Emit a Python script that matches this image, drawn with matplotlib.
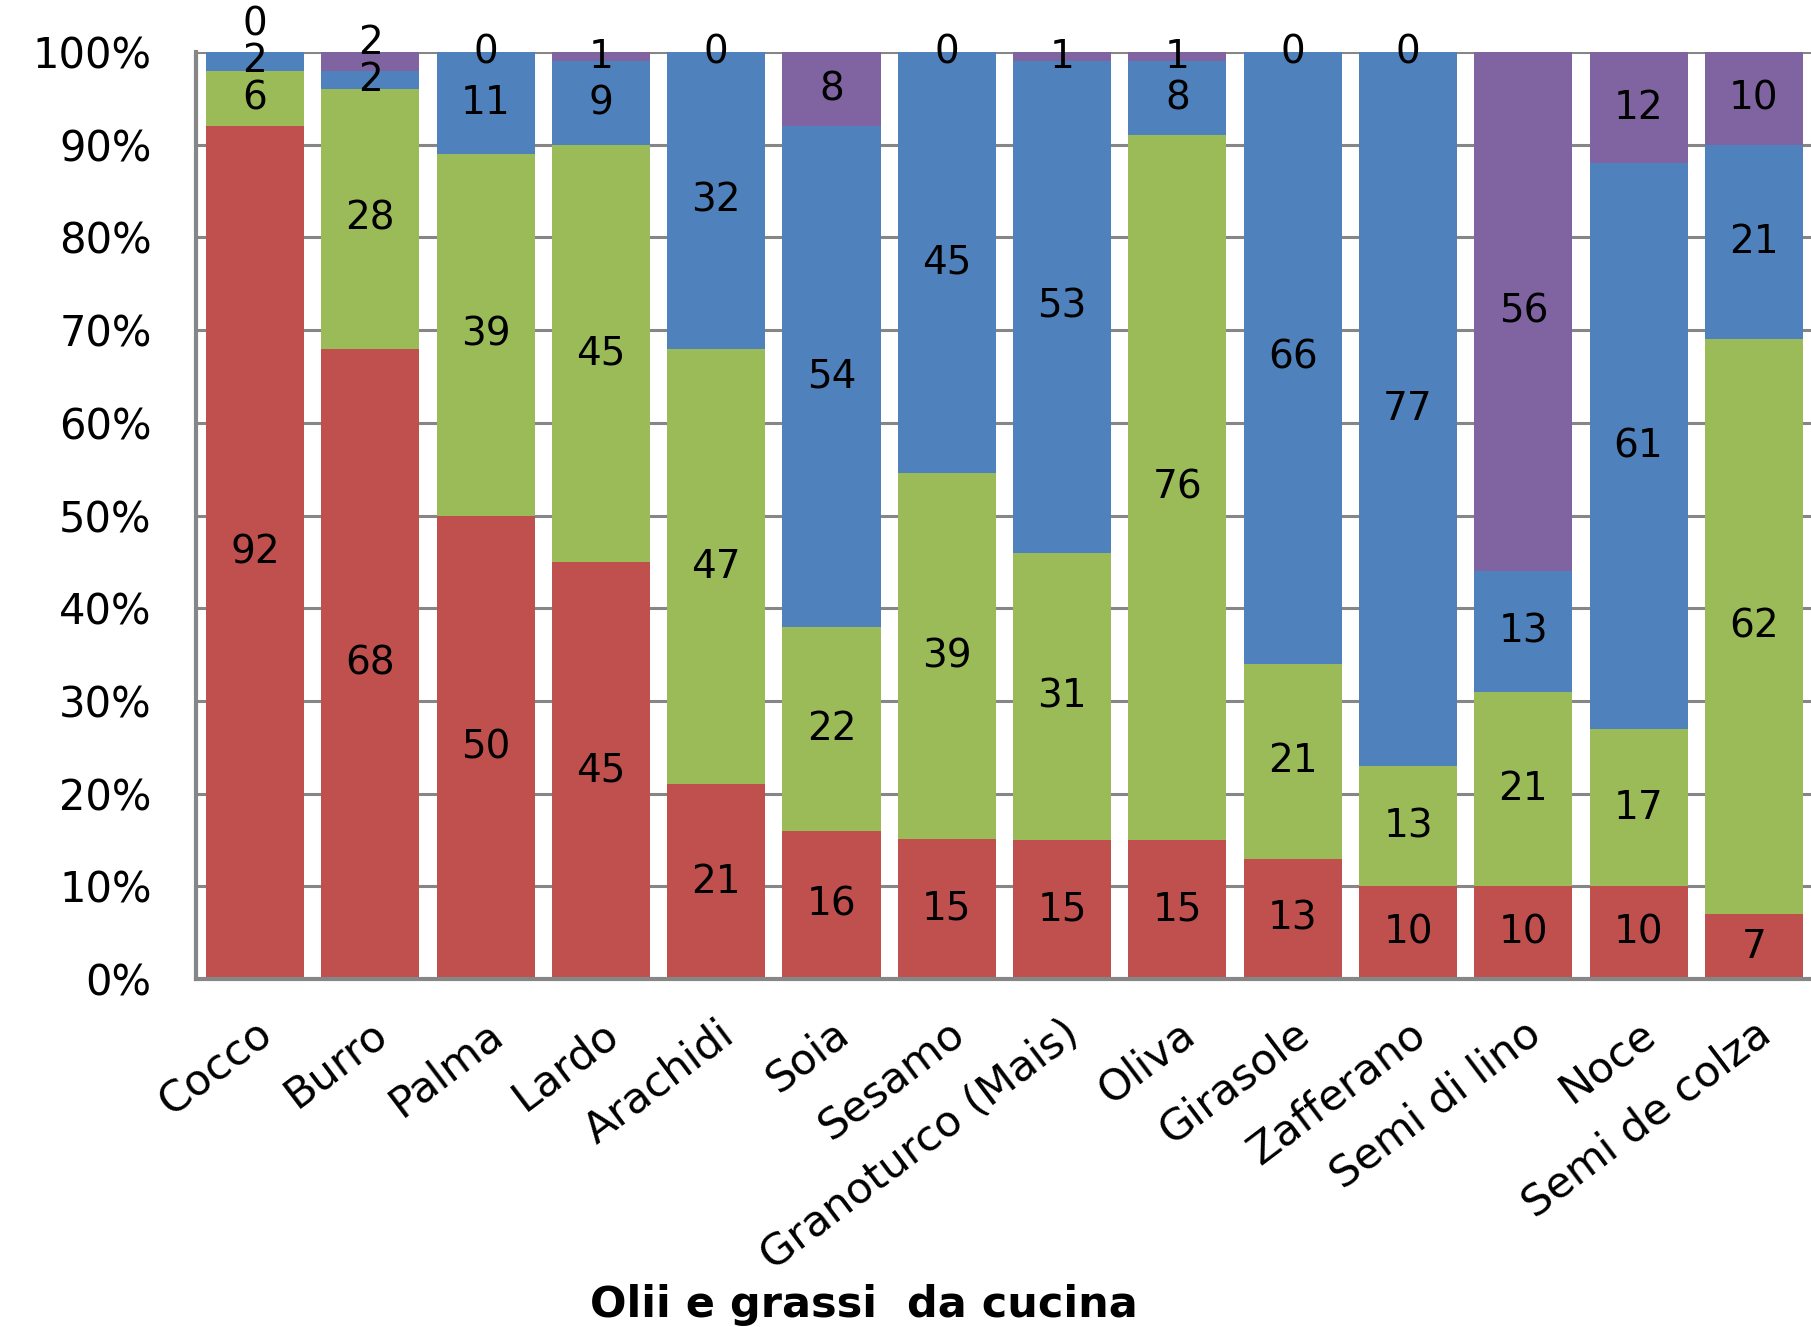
import numpy as np
import matplotlib
matplotlib.use("Agg")
import matplotlib.pyplot as plt

categories = ["Cocco", "Burro", "Palma", "Lardo", "Arachidi", "Soia", "Sesamo",
              "Granoturco (Mais)", "Oliva", "Girasole", "Zafferano", "Semi di lino",
              "Noce", "Semi de colza"]
saturi = [92, 68, 50, 45, 21, 16, 15, 15, 15, 13, 10, 10, 10, 7]
monoinsaturi = [6, 28, 39, 45, 47, 22, 39, 31, 76, 21, 13, 21, 17, 62]
polinsaturi = [2, 2, 11, 9, 32, 54, 45, 53, 8, 66, 77, 13, 61, 21]
omega3 = [0, 2, 0, 1, 0, 8, 0, 1, 1, 0, 0, 56, 12, 10]
yticks = [0, 10, 20, 30, 40, 50, 60, 70, 80, 90, 100]

series = [saturi, monoinsaturi, polinsaturi, omega3]
colors = ["#C0504D", "#9BBB59", "#4F81BD", "#8064A2"]

data = np.array(series, dtype=float)
pct = data / data.sum(axis=0) * 100
x = np.arange(len(categories))

fig = plt.figure(figsize=(18.11, 13.27), dpi=100)
ax = fig.add_axes([0.1082, 0.2622, 0.8918, 0.6986])

bottom = np.zeros(len(categories))
label_y = []
for vals, col in zip(pct, colors):
    ax.bar(x, vals, width=0.85, bottom=bottom, color=col, zorder=2)
    label_y.append(bottom + vals / 2)
    bottom = bottom + vals

# data labels, nudged up when they would collide
for i in range(len(categories)):
    prev = None
    for s in range(len(series)):
        y = label_y[s][i]
        if prev is not None and y - prev < 4.0:
            y = prev + 4.0
        ax.text(x[i], y, str(series[s][i]), ha="center", va="center",
                fontsize=28, color="black", zorder=3, clip_on=False)
        prev = y

ax.set_xlim(-0.512, 13.495)
ax.set_ylim(0, 100)
ax.set_yticks(yticks)
ax.set_yticklabels([f"{t}%" for t in yticks], fontsize=30)
ax.set_xticks(x)
ax.set_xticklabels(categories, rotation=37, ha="right", rotation_mode="anchor",
                   fontsize=31)
ax.tick_params(axis="y", length=0, pad=32)
ax.tick_params(axis="x", length=0, pad=24)

ax.grid(axis="y", color="#868686", linewidth=2.2, zorder=0)
ax.set_axisbelow(True)
for side in ["top", "right"]:
    ax.spines[side].set_visible(False)
for side in ["left", "bottom"]:
    ax.spines[side].set_color("#868686")
    ax.spines[side].set_linewidth(3)

fig.text(0.477, 0.0166, "Olii e grassi  da cucina", ha="center", va="center",
         fontsize=31, fontweight="bold")

fig.savefig("out.png", dpi=100)
